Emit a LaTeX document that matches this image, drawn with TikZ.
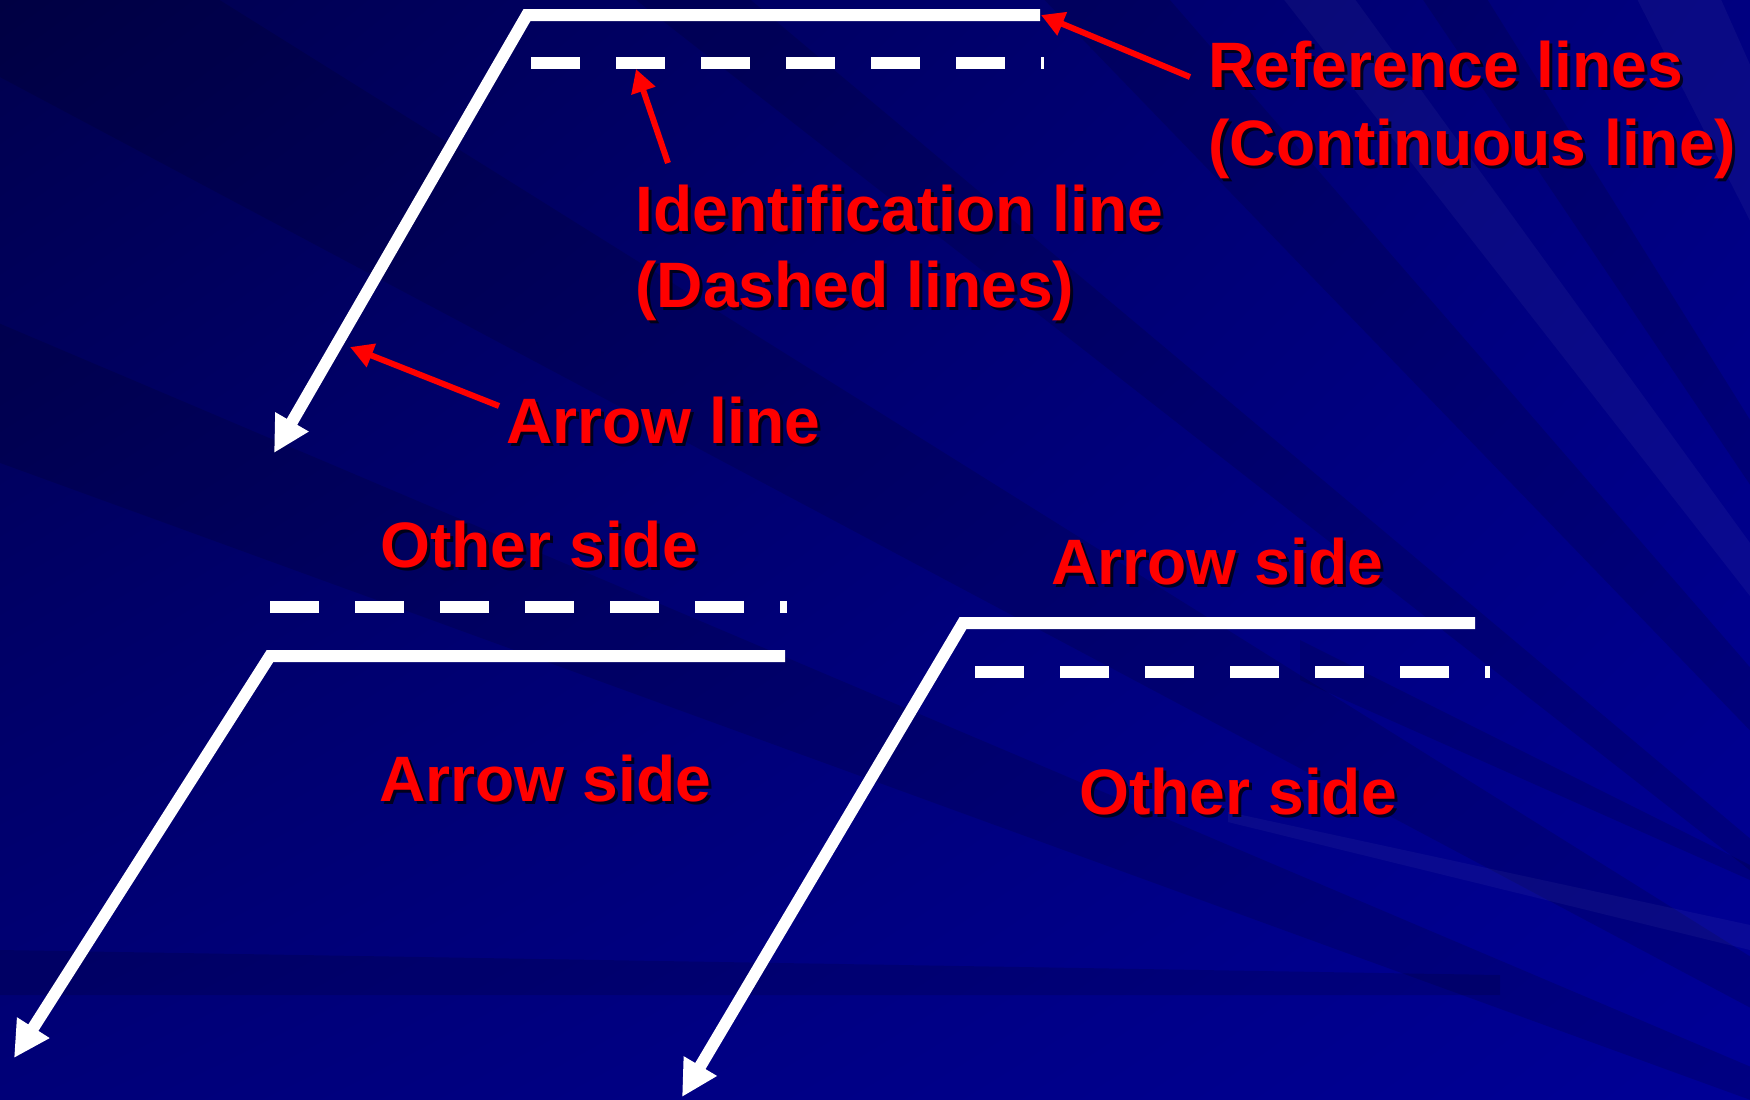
\documentclass[tikz,border=0pt]{standalone}
\usepackage{fontspec}
\setmainfont{Liberation Sans}
\usetikzlibrary{arrows.meta,shadings}
\definecolor{labred}{RGB}{255,0,0}
\definecolor{bgUL}{RGB}{0,0,78}
\definecolor{bgUR}{RGB}{0,0,128}
\definecolor{bgLL}{RGB}{0,0,120}
\definecolor{bgLR}{RGB}{0,0,150}
\newcommand\shlabel[4]{%
  \node[lblshadow] (#1s) at (#2+3,#3+3) {#4};
  \node[lbl] (#1) at (#2,#3) {#4};}
\begin{document}
\begin{tikzpicture}[x=0.5pt,y=-0.5pt,
  lbl/.style={text=labred, font=\fontsize{32.1}{38.5}\selectfont\bfseries, inner sep=0pt, anchor=base west},
  lblshadow/.style={lbl, text=black, text opacity=0.75},
  refline/.style={draw=white, line width=6pt, line join=miter},
  idline/.style={draw=white, line width=6pt, dash pattern=on 24.25pt off 18.25pt},
  wtip/.style={-{Triangle[length=18pt,width=18pt]}},
  callout/.style={draw=labred, line width=3pt, -{Triangle[length=11.5pt,width=12pt]}},
  darkray/.style={fill=black, opacity=0.13},
  lightray/.style={fill=white, opacity=0.04},
]
\useasboundingbox (0,0) rectangle (1750,1099);
% background
\shade[upper left=bgUL, upper right=bgUR, lower left=bgLL, lower right=bgLR] (0,0) rectangle (1750,1099);
\begin{scope}
  \clip (0,0) rectangle (1750,1099);
  \fill[darkray] (2300,1300) -- +(200:3500) -- +(203:3500) -- cycle;
  \fill[darkray] (2300,1300) -- +(208:3500) -- +(212:3500) -- cycle;
  \fill[darkray] (2300,1300) -- +(218:3500) -- +(220:3500) -- cycle;
  \fill[darkray] (2300,1300) -- +(226:3500) -- +(229:3500) -- cycle;
  \fill[darkray] (2300,1300) -- +(236:3500) -- +(238:3500) -- cycle;
  \fill[lightray] (2300,1300) -- +(232:3500) -- +(234:3500) -- cycle;
  \fill[lightray] (2300,1300) -- +(243:3500) -- +(246:3500) -- cycle;
  \fill[darkray] (0,950) -- (1500,975) -- (1500,995) -- (0,995) -- cycle;
  \fill[lightray] (1228,812) -- (1750,925) -- (1750,950) -- (1228,822) -- cycle;
  \fill[darkray] (1300,640) -- (1750,865) -- (1750,880) -- (1300,680) -- cycle;
\end{scope}

% top group
\coordinate (T0) at (1040,15);
\coordinate (T1) at (527,15);
\coordinate (T2) at (274,453);
\coordinate (I0) at (531,63);
\coordinate (I1) at (1044,63);
\draw[refline, wtip] (T0) -- (T1) -- (T2);
\draw[idline] (I0) -- (I1);

% bottom-left group
\coordinate (L0) at (270,607);
\coordinate (L1) at (787,607);
\coordinate (M0) at (785,656);
\coordinate (M1) at (270,656);
\coordinate (M2) at (14,1058);
\draw[idline] (L0) -- (L1);
\draw[refline, wtip] (M0) -- (M1) -- (M2);

% bottom-right group
\coordinate (R0) at (1475,623);
\coordinate (R1) at (963,623);
\coordinate (R2) at (682,1097);
\coordinate (S0) at (975,672);
\coordinate (S1) at (1490,672);
\draw[refline, wtip] (R0) -- (R1) -- (R2);
\draw[idline] (S0) -- (S1);

% labels
\shlabel{ref1}{1208}{87}{Reference lines}
\shlabel{ref2}{1208}{165}{(Continuous line)}
\shlabel{id1}{635}{231}{Identification line}
\shlabel{id2}{635}{307}{(Dashed lines)}
\shlabel{arl}{506}{443}{Arrow line}
\shlabel{os1}{380}{567}{Other side}
\shlabel{as1}{379}{801}{Arrow side}
\shlabel{as2}{1051}{584}{Arrow side}
\shlabel{os2}{1079}{814}{Other side}

% callouts
\coordinate (c1a) at (1190,77);
\coordinate (c1b) at (1041,15);
\coordinate (c2a) at (668,163);
\coordinate (c2b) at (636,69);
\coordinate (c3a) at (499,406);
\coordinate (c3b) at (350,347);
\draw[callout] (c1a) -- (c1b);
\draw[callout] (c2a) -- (c2b);
\draw[callout] (c3a) -- (c3b);
\end{tikzpicture}
\end{document}
